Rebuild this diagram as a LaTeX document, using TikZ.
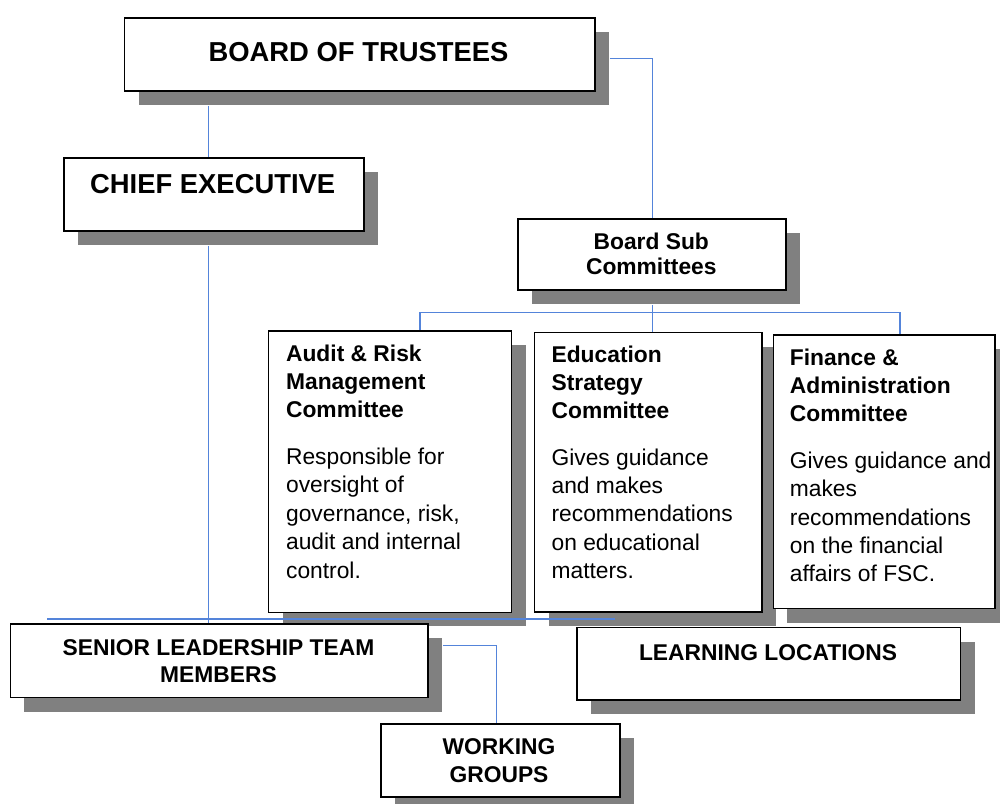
\documentclass[tikz,border=0pt]{standalone}
\usepackage{fontspec}
\setmainfont{Liberation Sans}
\usetikzlibrary{shadows}
\definecolor{conncol}{RGB}{84,132,218}
\definecolor{shadcol}{RGB}{128,128,128}
\begin{document}
\begin{tikzpicture}[x=1pt,y=-1pt,
  orgbox/.style={draw=black, line width=1.6pt, fill=white, inner sep=0pt, anchor=north west,
    drop shadow={shadow xshift=14pt, shadow yshift=-14pt, fill=shadcol, opacity=1}},
  conn/.style={draw=conncol, line width=1.2pt},
  bigtxt/.style={inner sep=0pt, anchor=base, font=\fontsize{27.4}{33}\selectfont\bfseries},
  midtxt/.style={inner sep=0pt, anchor=base, font=\fontsize{22.8}{27}\selectfont\bfseries},
  headtxt/.style={inner sep=0pt, anchor=base west, font=\fontsize{22.8}{27}\selectfont\bfseries},
  bodytxt/.style={inner sep=0pt, anchor=base west, font=\fontsize{22.8}{27}\selectfont},
]
\useasboundingbox (0,0) rectangle (1000,803);
\fill[white] (0,0) rectangle (1000,803);

% boxes
\node[orgbox, minimum width=470.5pt, minimum height=73pt] (bot) at (123.7,17) {};
\node[orgbox, minimum width=299.6pt, minimum height=72.7pt] (ce) at (63.4,157.3) {};
\node[orgbox, minimum width=267.7pt, minimum height=71pt] (bsc) at (517.3,218.3) {};
\node[orgbox, minimum width=243.1pt, minimum height=281.5pt] (aud) at (267.7,330) {};
\node[orgbox, minimum width=227.3pt, minimum height=279.3pt] (edu) at (533.7,331.7) {};
\node[orgbox, minimum width=221.5pt, minimum height=273.4pt] (fin) at (772.5,334.3) {};
\node[orgbox, minimum width=417.7pt, minimum height=73.4pt] (slt) at (9.6,623.3) {};
\node[orgbox, minimum width=383.9pt, minimum height=72.3pt] (ll) at (575.9,626.7) {};
\node[orgbox, minimum width=239.3pt, minimum height=72.7pt] (wg) at (380,723.3) {};

% connectors
\coordinate (jCE) at (208.5,0);
\draw[conn] ([yshift=-14pt]bot.south -| jCE) -- (ce.north -| jCE);
\draw[conn] ([yshift=-14pt]ce.south -| jCE) -- (slt.north -| jCE);
\coordinate (jBS) at (652.7,58.3);
\draw[conn] ([xshift=14pt]bot.east |- jBS) -- (jBS) -- (bsc.north -| jBS);
\coordinate (jE) at (652.7,312.3);
\coordinate (jA) at (420,312.3);
\coordinate (jF) at (900,312.3);
\draw[conn] ([yshift=-14pt]bsc.south -| jE) -- (edu.north -| jE);
\draw[conn] (aud.north -| jA) -- (jA) -- (jF) -- (fin.north -| jF);
\coordinate (hL) at (47.2,619);
\coordinate (hR) at (615.4,619);
\draw[conn] (hL) -- (hR);
\coordinate (jW) at (496.8,645.7);
\draw[conn] ([xshift=14pt]slt.east |- jW) -- (jW) -- (wg.north -| jW);

% titles
\node[bigtxt] (botT) at (358.5,61.7) {BOARD OF TRUSTEES};
\node[bigtxt] (ceT) at (212.7,193.3) {CHIEF EXECUTIVE};
\node[midtxt] (bscT1) at (651.3,249) {Board Sub};
\node[midtxt] (bscT2) at (651.3,274) {Committees};
\node[midtxt] (sltT1) at (218.5,655) {SENIOR LEADERSHIP TEAM};
\node[midtxt] (sltT2) at (218.5,682.7) {MEMBERS};
\node[midtxt] (llT) at (768,660.7) {LEARNING LOCATIONS};
\node[midtxt] (wgT1) at (499,754) {WORKING};
\node[midtxt] (wgT2) at (499,782.3) {GROUPS};

% committee texts
\foreach \t [count=\i] in {Audit \& Risk, Management, Committee}
  \node[headtxt] (audh\i) at (285.9,{361+(\i-1)*28.2}) {\t};
\foreach \t [count=\i] in {Responsible for, oversight of, {governance, risk,}, audit and internal, control.}
  \node[bodytxt] (audb\i) at (285.9,{464+(\i-1)*28.6}) {\t};
\foreach \t [count=\i] in {Education, Strategy, Committee}
  \node[headtxt] (eduh\i) at (551.4,{362+(\i-1)*28.2}) {\t};
\foreach \t [count=\i] in {Gives guidance, and makes, recommendations, on educational, matters.}
  \node[bodytxt] (edub\i) at (551.4,{465+(\i-1)*28.4}) {\t};
\foreach \t [count=\i] in {Finance \&, Administration, Committee}
  \node[headtxt] (finh\i) at (789.7,{365+(\i-1)*28.3}) {\t};
\foreach \t [count=\i] in {Gives guidance and, makes, recommendations, on the financial, affairs of FSC.}
  \node[bodytxt] (finb\i) at (789.7,{468.3+(\i-1)*28.4}) {\t};
\end{tikzpicture}
\end{document}
